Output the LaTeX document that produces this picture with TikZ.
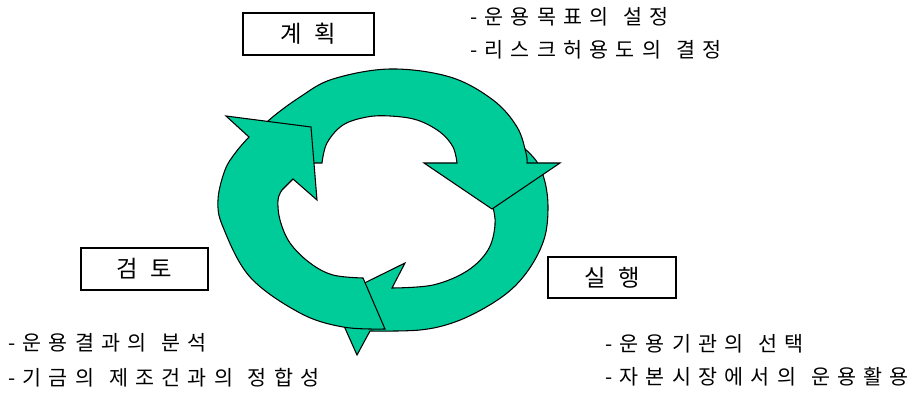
\documentclass[tikz,border=0pt]{standalone}
\usepackage{fontspec}
\newfontfamily\kr[LetterSpace=35]{Noto Sans CJK KR}
\newfontfamily\krbox[LetterSpace=30]{Noto Sans CJK KR}
\definecolor{cyclegreen}{RGB}{0,204,153}
\tikzset{
  arrowshape/.style={fill=cyclegreen, draw=black, line width=0.8pt, line join=miter},
  labelbox/.style={draw=black, line width=0.8pt, inner sep=0pt, font=\krbox\fontsize{17.5}{20}\selectfont},
  itemtext/.style={anchor=west, inner sep=0pt, font=\kr\fontsize{15.5}{17}\selectfont}
}
\newcommand{\gap}{\hspace{0.72em}}
\begin{document}
\begin{tikzpicture}[x=0.75pt,y=-0.75pt]
\useasboundingbox (0,0) rectangle (908,395);

% arrow 2 (right side to bottom) -- lowest layer
\filldraw[arrowshape]
  (472,172) -- (524,148)
  -- plot[smooth, tension=0.6] coordinates {(524,148) (537,162) (545,182) (548,207) (545,236) (533,263) (514,287) (488,306) (455,322) (420,330) (370,331)}
  -- (357,355) -- (332,299) -- (405,263) -- (392,288)
  -- plot[smooth, tension=0.6] coordinates {(392,288) (433,285) (467,271) (488,250) (495,225) (492,204) (484,188) (472,172)}
  -- cycle;

% arrow 1 (top, left to right)
\filldraw[arrowshape]
  (245,163)
  -- plot[smooth, tension=0.6] coordinates {(245,163) (252,140) (268,121) (300,97) (333,79) (390,69) (450,77) (493,100) (517,127) (526,153) (527,163)}
  -- (560,163) -- (492,209) -- (424,163) -- (457,163)
  -- plot[smooth, tension=0.6] coordinates {(457,163) (453,147) (440,132) (417,120) (390,116) (367,117) (343,125) (327,143) (322,163)}
  -- cycle;

% arrow 3 (bottom to top-left)
\filldraw[arrowshape]
  (363,278) -- (385,329)
  -- plot[smooth, tension=0.6] coordinates {(385,329) (343,327) (300,313) (250,277) (223,227) (218,200) (225,170) (236,152) (249,137)}
  -- (226,116) -- (311,127) -- (317,200) -- (293,179) -- (282,190)
  -- plot[smooth, tension=0.6] coordinates {(282,190) (278,200) (280,220) (290,243) (310,263) (333,275) (363,278)}
  -- cycle;

% labelled boxes
\node[labelbox, minimum width=98.25pt, minimum height=31.5pt] (plan) at (308.5,34) {계 획};
\node[labelbox, minimum width=95.25pt, minimum height=31.5pt] (review) at (144.5,269) {검 토};
\node[labelbox, minimum width=96pt, minimum height=30.75pt] (execute) at (612,277.5) {실 행};

% item lists
\node[itemtext] (p1) at (470,17) {-운용목표의\gap{}설정};
\node[itemtext] (p2) at (470,50) {-리스크허용도의\gap{}결정};
\node[itemtext] (r1) at (8,343) {-운용결과의\gap{}분석};
\node[itemtext] (r2) at (8,378) {-기금의\gap{}제조건과의\gap{}정합성};
\node[itemtext] (e1) at (605,344) {-운용기관의\gap{}선택};
\node[itemtext] (e2) at (605,377) {-자본시장에서의\gap{}운용활용};
\end{tikzpicture}
\end{document}
